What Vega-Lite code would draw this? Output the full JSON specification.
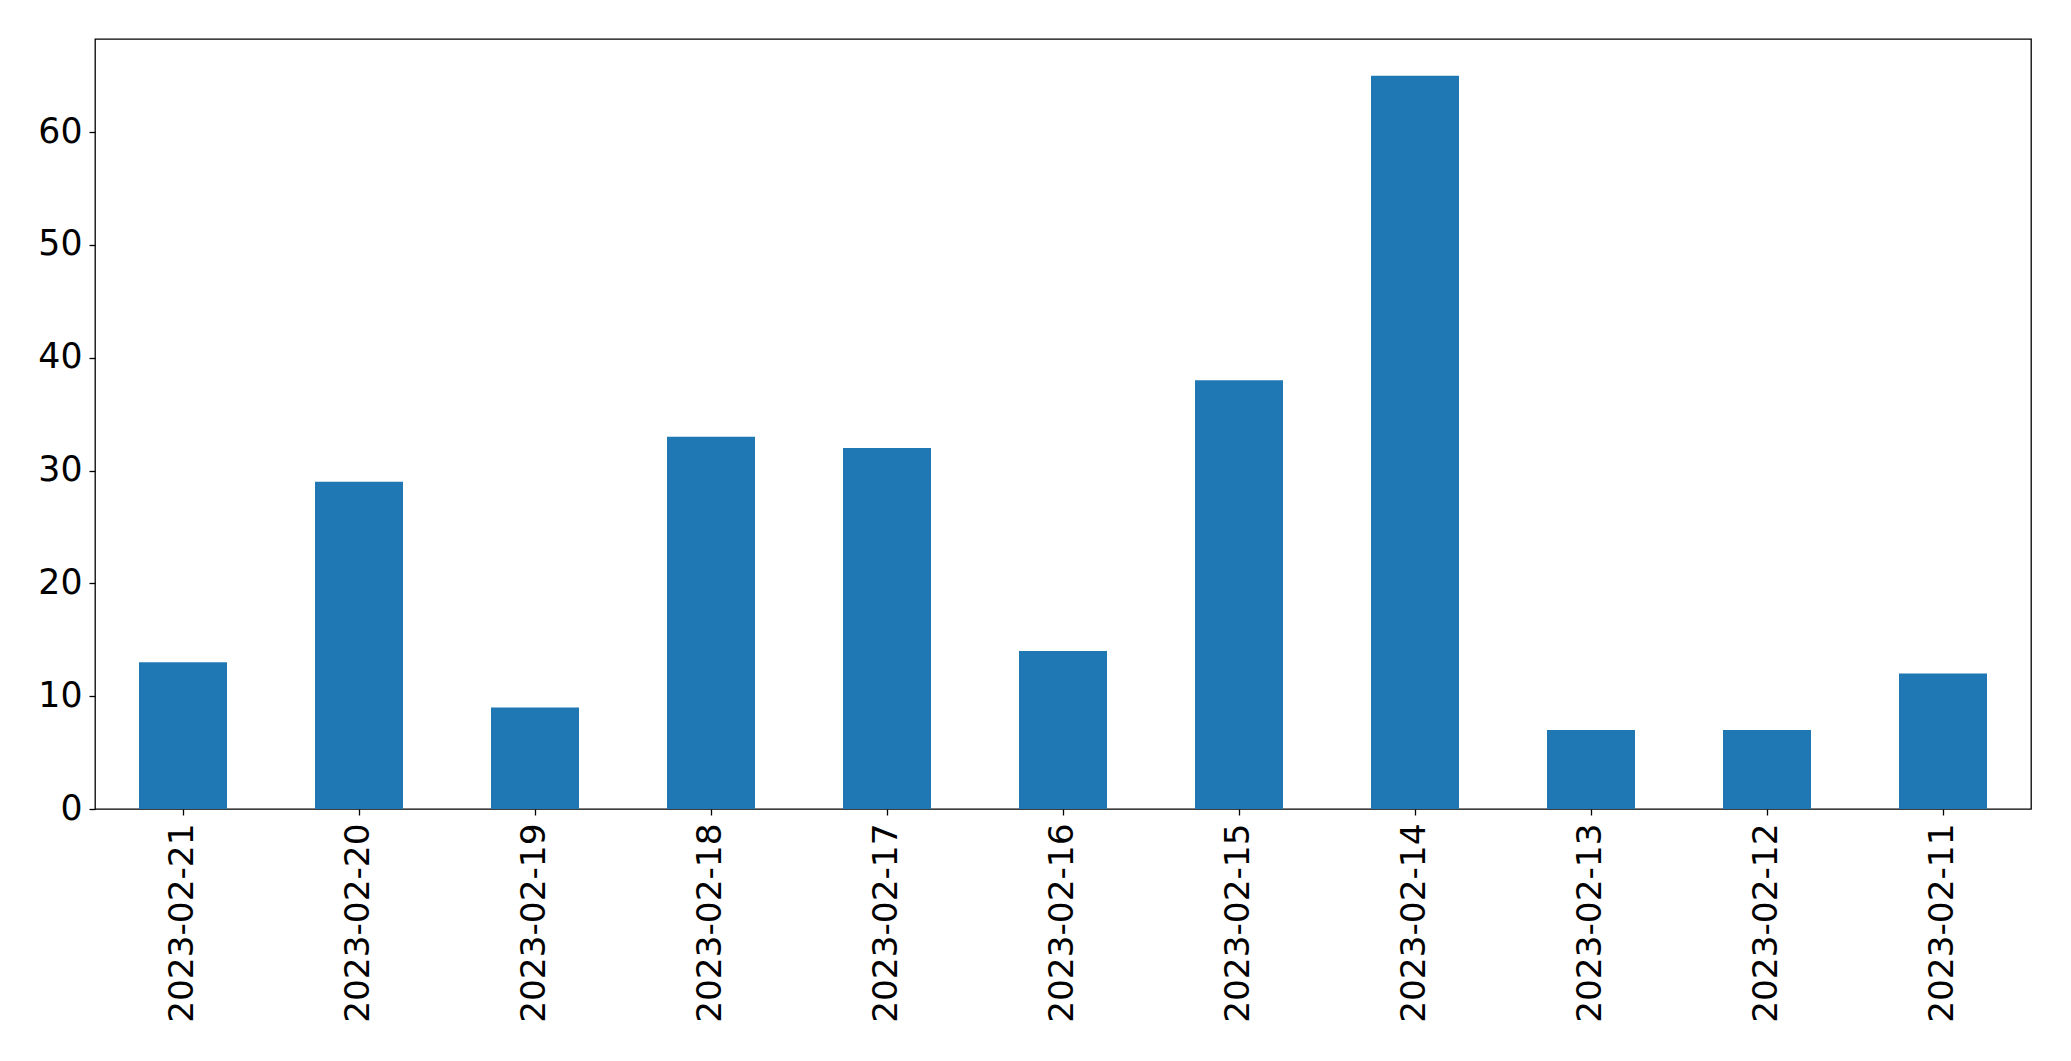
{
  "$schema": "https://vega.github.io/schema/vega-lite/v6.json",
  "autosize": {"type": "none"},
  "width": 1936,
  "height": 770,
  "padding": {"left": 95, "top": 39, "right": 40, "bottom": 252},
  "background": "white",
  "config": {
    "view": {"stroke": "black", "strokeWidth": 1.3},
    "font": "DejaVu Sans"
  },
  "data": {
    "values": [
      {"date": "2023-02-21", "count": 13},
      {"date": "2023-02-20", "count": 29},
      {"date": "2023-02-19", "count": 9},
      {"date": "2023-02-18", "count": 33},
      {"date": "2023-02-17", "count": 32},
      {"date": "2023-02-16", "count": 14},
      {"date": "2023-02-15", "count": 38},
      {"date": "2023-02-14", "count": 65},
      {"date": "2023-02-13", "count": 7},
      {"date": "2023-02-12", "count": 7},
      {"date": "2023-02-11", "count": 12}
    ]
  },
  "mark": {"type": "bar", "color": "#1f77b4"},
  "encoding": {
    "x": {
      "field": "date",
      "type": "nominal",
      "sort": null,
      "scale": {"paddingInner": 0.5, "paddingOuter": 0.25},
      "axis": {
        "title": null,
        "labelAngle": -90,
        "labelFontSize": 34.3,
        "labelLimit": 1000,
        "labelColor": "black",
        "labelFont": "DejaVu Sans",
        "labelPadding": 8,
        "tickSize": 6,
        "tickColor": "black",
        "tickWidth": 1.3,
        "domain": false,
        "grid": false
      }
    },
    "y": {
      "field": "count",
      "type": "quantitative",
      "scale": {"domain": [0, 68.25], "nice": false, "zero": true},
      "axis": {
        "title": null,
        "values": [0, 10, 20, 30, 40, 50, 60],
        "labelFontSize": 34.7,
        "labelColor": "black",
        "labelFont": "DejaVu Sans",
        "labelPadding": 7,
        "tickSize": 6,
        "tickColor": "black",
        "tickWidth": 1.3,
        "domain": false,
        "grid": false
      }
    }
  }
}
